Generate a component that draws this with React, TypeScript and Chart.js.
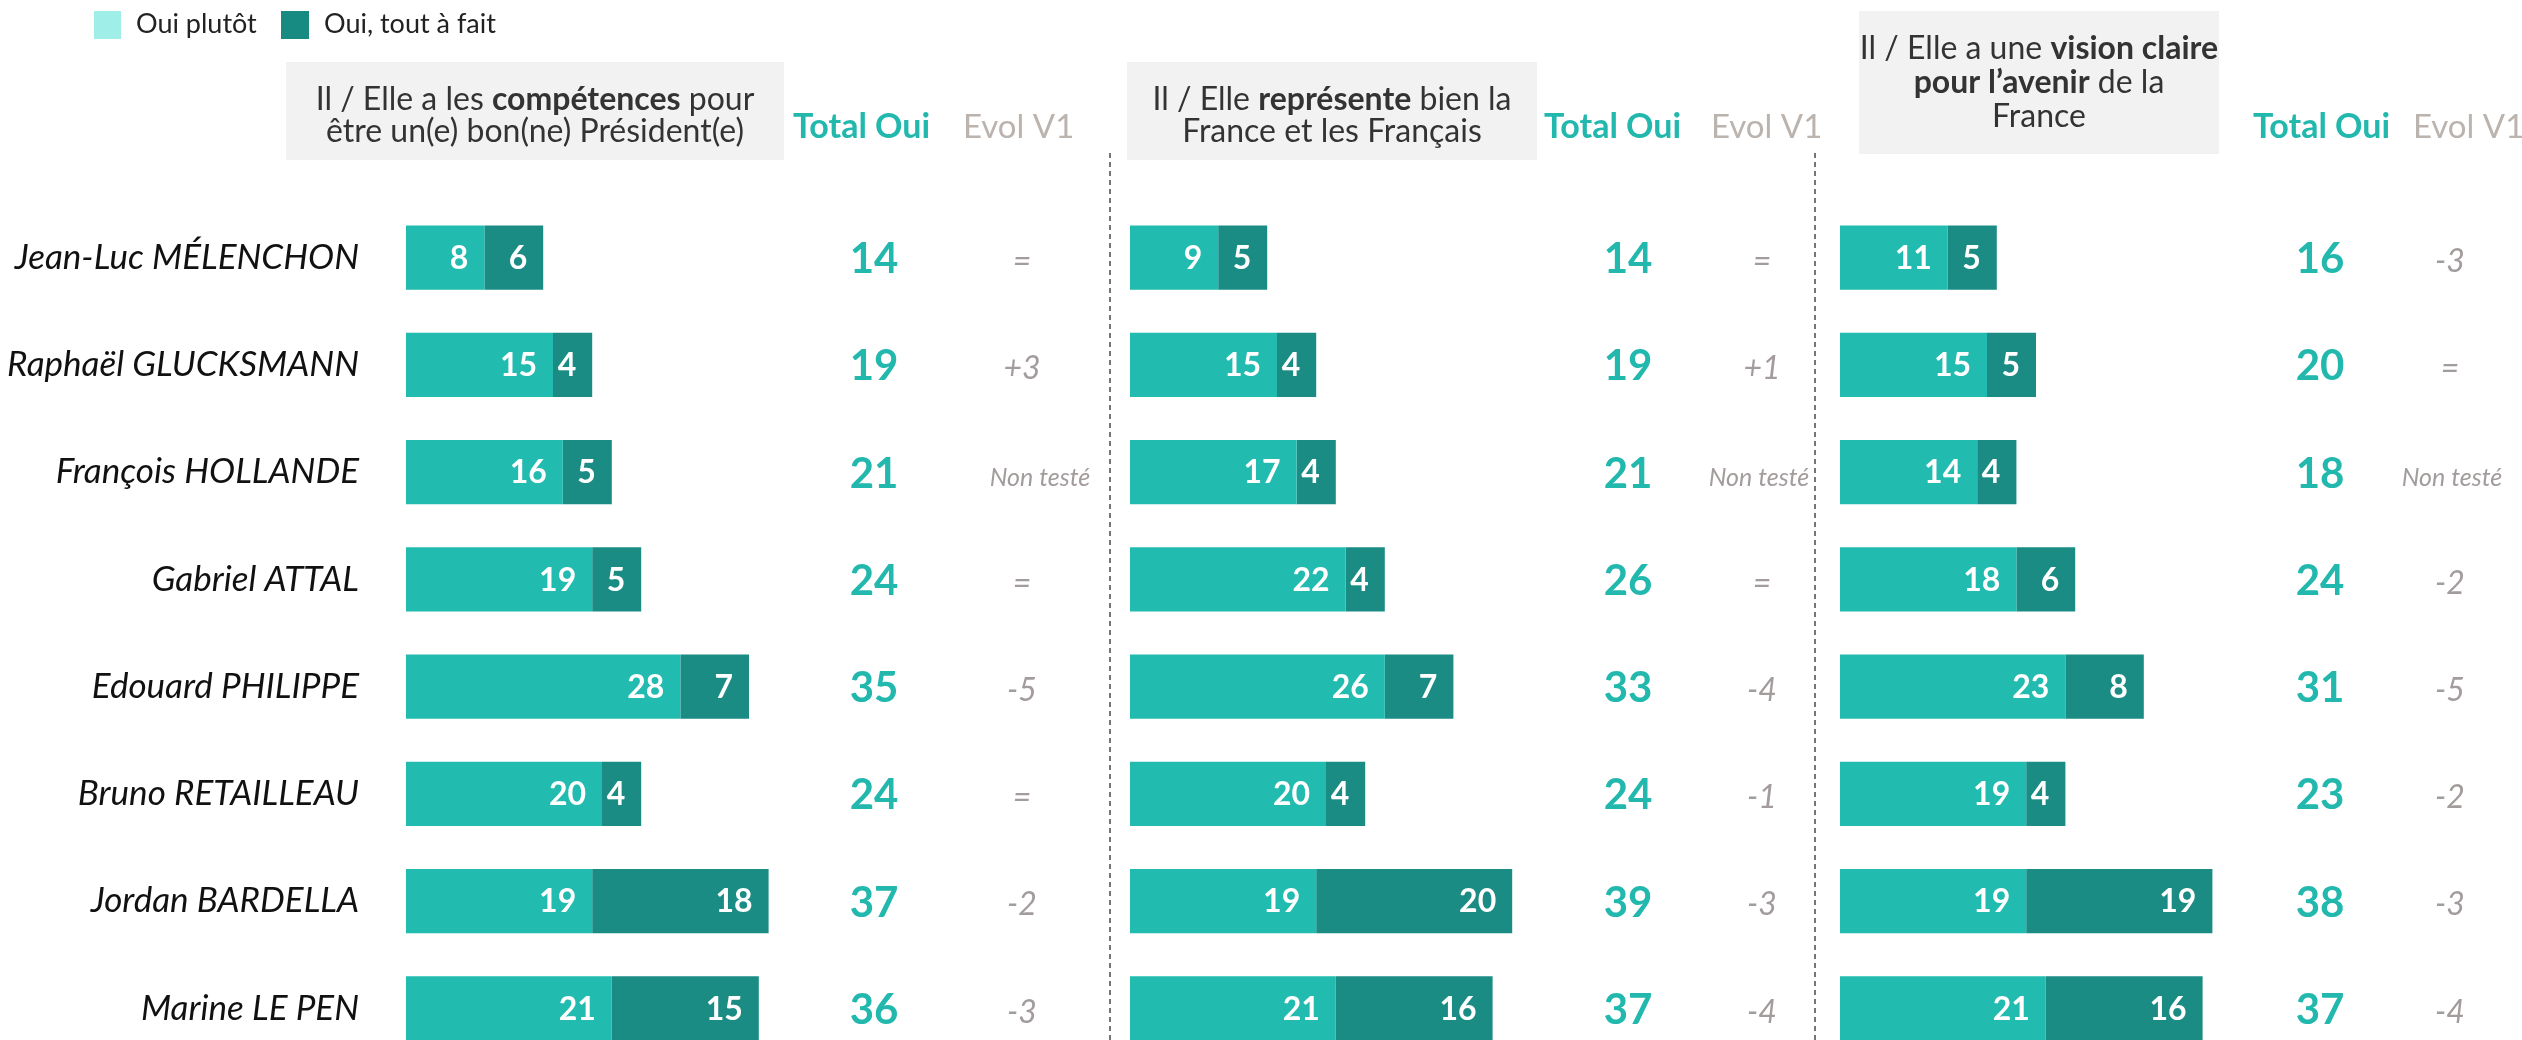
import React, { useEffect, useRef } from "react";
import { Chart, registerables } from "chart.js";

Chart.register(...registerables);

// ---------------- DATA ----------------
const candidates = [
  "Jean-Luc MÉLENCHON",
  "Raphaël GLUCKSMANN",
  "François HOLLANDE",
  "Gabriel ATTAL",
  "Edouard PHILIPPE",
  "Bruno RETAILLEAU",
  "Jordan BARDELLA",
  "Marine LE PEN",
];

const seriesLabels = ["Oui plutôt", "Oui, tout à fait"];
const columnLabels = ["Total Oui", "Evol V1"];

const competencesPlutot = [8, 15, 16, 19, 28, 20, 19, 21];
const competencesToutAFait = [6, 4, 5, 5, 7, 4, 18, 15];
const competencesTotal = [14, 19, 21, 24, 35, 24, 37, 36];
const competencesEvol = ["=", "+3", "Non testé", "=", "-5", "=", "-2", "-3"];

const representePlutot = [9, 15, 17, 22, 26, 20, 19, 21];
const representeToutAFait = [5, 4, 4, 4, 7, 4, 20, 16];
const representeTotal = [14, 19, 21, 26, 33, 24, 39, 37];
const representeEvol = ["=", "+1", "Non testé", "=", "-4", "-1", "-3", "-4"];

const visionPlutot = [11, 15, 14, 18, 23, 19, 19, 21];
const visionToutAFait = [5, 5, 4, 6, 8, 4, 19, 16];
const visionTotal = [16, 20, 18, 24, 31, 23, 38, 37];
const visionEvol = ["-3", "=", "Non testé", "-2", "-5", "-2", "-3", "-4"];

// header texts: lines of [text, bold] segments
const competencesHeader: [string, boolean][][] = [
  [["Il / Elle a les ", false], ["compétences", true], [" pour", false]],
  [["être un(e) bon(ne) Président(e)", false]],
];
const representeHeader: [string, boolean][][] = [
  [["Il / Elle ", false], ["représente", true], [" bien la", false]],
  [["France et les Français", false]],
];
const visionHeader: [string, boolean][][] = [
  [["Il / Elle a une ", false], ["vision claire", true]],
  [["pour l’avenir", true], [" de la", false]],
  [["France", false]],
];

// ---------------- STYLE / LAYOUT ----------------
const W = 2522;
const H = 1040;
const CANVAS_H = 1062;
const UNIT_PX = 9.8;
const FONT = "Lato, 'Open Sans', sans-serif";
const LIGHT = "#22bbb0";
const DARK = "#1a8c84";
const LEGEND_LIGHT = "#9feee7";
const LEGEND_DARK = "#178b81";
const TOTAL_COLOR = "#22b8ad";
const EVOL_COLOR = "#a39c9c";
const EVOL_HEAD_COLOR = "#bbb3ae";
const HEADER_SIZE = 32;

const PANELS = [
  {
    zero: 406,
    box: [286, 62, 498, 98],
    baselines: [110, 142],
    header: competencesHeader,
    totalHeadX: 793,
    evolHeadX: 963,
    totalX: 874,
    evolX: 1022,
    nonTesteX: 1040,
    totals: competencesTotal,
    evol: competencesEvol,
  },
  {
    zero: 1130,
    box: [1127, 62, 410, 98],
    baselines: [110, 142],
    header: representeHeader,
    totalHeadX: 1544,
    evolHeadX: 1711,
    totalX: 1628,
    evolX: 1762,
    nonTesteX: 1759,
    totals: representeTotal,
    evol: representeEvol,
  },
  {
    zero: 1840,
    box: [1859, 11, 360, 143],
    baselines: [59, 93, 127],
    header: visionHeader,
    totalHeadX: 2253,
    evolHeadX: 2413,
    totalX: 2320,
    evolX: 2450,
    nonTesteX: 2452,
    totals: visionTotal,
    evol: visionEvol,
  },
];
const DASH_X = [1110, 1815];
const DASH_TOP = 153;

function scaleRange(zero: number) {
  const left = PANELS[0].zero;
  const min = -(zero - left) / UNIT_PX;
  const max = min + (W - left) / UNIT_PX;
  return { min, max };
}

const decorPlugin = {
  id: "decor",
  beforeDatasetsDraw(chart: any) {
    const ctx = chart.ctx;
    ctx.save();
    // legend
    ctx.fillStyle = LEGEND_LIGHT;
    ctx.fillRect(94, 11, 27, 28);
    ctx.fillStyle = LEGEND_DARK;
    ctx.fillRect(281, 11, 28, 28);
    ctx.fillStyle = "#222";
    ctx.font = `27px ${FONT}`;
    ctx.textBaseline = "alphabetic";
    ctx.textAlign = "left";
    ctx.fillText(seriesLabels[0], 136, 33);
    ctx.fillText(seriesLabels[1], 324, 33);

    // dashed separators
    ctx.strokeStyle = "#4a4a4a";
    ctx.lineWidth = 1.5;
    ctx.setLineDash([5, 4]);
    DASH_X.forEach((x) => {
      ctx.beginPath();
      ctx.moveTo(x, DASH_TOP);
      ctx.lineTo(x, CANVAS_H);
      ctx.stroke();
    });
    ctx.setLineDash([]);

    // header boxes
    PANELS.forEach((p) => {
      const [bx, by, bw, bh] = p.box;
      ctx.fillStyle = "#f2f2f2";
      ctx.fillRect(bx, by, bw, bh);
      const cx = bx + bw / 2;
      p.header.forEach((line, li) => {
        const segs = line.map(([t, b]) => {
          ctx.font = `${b ? "bold " : ""}${HEADER_SIZE}px ${FONT}`;
          return { t, b, w: ctx.measureText(t).width };
        });
        const total = segs.reduce((a, s) => a + s.w, 0);
        let x = cx - total / 2;
        ctx.fillStyle = "#333";
        ctx.textAlign = "left";
        segs.forEach((s) => {
          ctx.font = `${s.b ? "bold " : ""}${HEADER_SIZE}px ${FONT}`;
          ctx.fillText(s.t, x, p.baselines[li]);
          x += s.w;
        });
      });
      // column headers
      ctx.textAlign = "left";
      ctx.font = `bold 34px ${FONT}`;
      ctx.fillStyle = TOTAL_COLOR;
      ctx.fillText(columnLabels[0], p.totalHeadX, 138);
      ctx.font = `33px ${FONT}`;
      ctx.fillStyle = EVOL_HEAD_COLOR;
      ctx.fillText(columnLabels[1], p.evolHeadX, 138);
    });
    ctx.restore();
  },
  afterDatasetsDraw(chart: any) {
    const ctx = chart.ctx;
    const yScale = chart.scales.y;
    ctx.save();
    // segment labels
    ctx.fillStyle = "#ffffff";
    ctx.font = `bold 32px ${FONT}`;
    ctx.textAlign = "right";
    ctx.textBaseline = "middle";
    chart.data.datasets.forEach((ds: any, i: number) => {
      const meta = chart.getDatasetMeta(i);
      meta.data.forEach((bar: any, j: number) => {
        const { x, y } = bar.getProps(["x", "y"], true);
        ctx.fillText(String(ds.data[j]), x - 16, y + 1);
      });
    });
    // totals & evolutions
    PANELS.forEach((p) => {
      candidates.forEach((_, j) => {
        const y = yScale.getPixelForValue(j);
        ctx.textAlign = "center";
        ctx.textBaseline = "middle";
        ctx.font = `bold 42px ${FONT}`;
        ctx.fillStyle = TOTAL_COLOR;
        ctx.fillText(String(p.totals[j]), p.totalX, y + 2);
        const ev = p.evol[j];
        ctx.fillStyle = EVOL_COLOR;
        if (ev === "Non testé") {
          ctx.font = `italic 25px ${FONT}`;
          ctx.fillText(ev, p.nonTesteX, y + 6);
        } else {
          ctx.font = `italic 32px ${FONT}`;
          ctx.fillText(ev, p.evolX, y + 4);
        }
      });
    });
    ctx.restore();
  },
};

export default function App() {
  const ref = useRef<HTMLCanvasElement | null>(null);

  useEffect(() => {
    document.body.style.margin = "0";
    const canvas = ref.current;
    if (!canvas) return;
    const panelData = [
      [competencesPlutot, competencesToutAFait],
      [representePlutot, representeToutAFait],
      [visionPlutot, visionToutAFait],
    ];
    const axisIds = ["x", "x2", "x3"];
    const datasets: any[] = [];
    panelData.forEach((pair, pi) => {
      pair.forEach((vals, si) => {
        datasets.push({
          label: seriesLabels[si],
          data: vals,
          backgroundColor: si === 0 ? LIGHT : DARK,
          borderWidth: 0,
          xAxisID: axisIds[pi],
          stack: "all",
          barPercentage: 0.6,
          categoryPercentage: 1,
        });
      });
    });
    const scales: any = {
      y: {
        type: "category",
        stacked: true,
        offset: true,
        grid: { display: false },
        border: { display: false },
        ticks: {
          padding: 39,
          color: "#111",
          font: { family: FONT, style: "italic", size: 35 },
        },
        afterFit: (s: any) => {
          s.width = PANELS[0].zero;
          s.paddingTop = 0;
          s.paddingBottom = 0;
        },
      },
    };
    PANELS.forEach((p, i) => {
      const r = scaleRange(p.zero);
      scales[axisIds[i]] = {
        type: "linear",
        axis: "x",
        position: "bottom",
        display: false,
        stacked: true,
        min: r.min,
        max: r.max,
      };
    });
    const chart = new Chart(canvas, {
      type: "bar",
      data: { labels: candidates, datasets },
      options: {
        indexAxis: "y",
        animation: false,
        responsive: false,
        devicePixelRatio: 1,
        layout: { padding: { top: 204, left: 0, right: 0, bottom: 0 } },
        plugins: {
          legend: { display: false },
          tooltip: { enabled: false },
          title: { display: false },
        },
        scales,
      },
      plugins: [decorPlugin],
    } as any);
    return () => chart.destroy();
  }, []);

  return (
    <div
      style={{
        width: W,
        height: H,
        overflow: "hidden",
        position: "relative",
        background: "#fff",
      }}
    >
      <canvas
        ref={ref}
        width={W}
        height={CANVAS_H}
        style={{ display: "block", width: W, height: CANVAS_H }}
      />
    </div>
  );
}
